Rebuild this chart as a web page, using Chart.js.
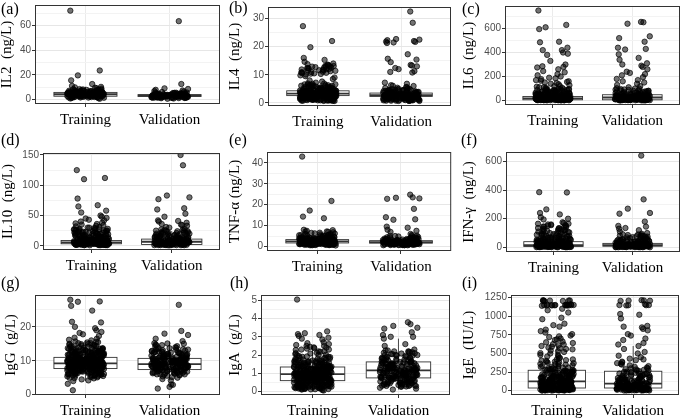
<!DOCTYPE html>
<html>
<head>
<meta charset="utf-8">
<script src="https://cdn.jsdelivr.net/npm/chart.js@4.4.1/dist/chart.umd.min.js"></script>
<style>
body { margin: 0; background: #fff; }
#wrap { position: relative; width: 685px; height: 420px; background: #fff; overflow: hidden; }
#wrap canvas { position: absolute; }
.tag { position: absolute; font: 16px "Liberation Serif", "Times New Roman", serif; line-height: 16px; color: #000; }
</style>
</head>
<body>
<div id="wrap"></div>
<script>
// groups on the x axis
var categories = ["Training", "Validation"];

// box stats per group: [lower whisker, q1, median, q3, upper whisker]
var il2TrainBox = [0.5, 2.6, 4.2, 5.7, 10.3], il2ValidBox = [0.5, 2.4, 3.2, 3.9, 6.1];
var il4TrainBox = [0.7, 2.6, 3.3, 4.3, 6.8], il4ValidBox = [0.7, 2.3, 2.8, 3.5, 5.3];
var il6TrainBox = [1, 6, 18, 33, 73], il6ValidBox = [1, 6, 25, 48, 110];
var il10TrainBox = [1, 3.3, 5.5, 8.7, 16.8], il10ValidBox = [1, 2.1, 6.6, 11, 24.3];
var tnfTrainBox = [0.5, 1.7, 2.5, 3.3, 5.7], tnfValidBox = [0.6, 1.6, 2.1, 2.8, 4.6];
var ifnTrainBox = [1, 6, 15, 40, 90], ifnValidBox = [1, 8, 16, 28, 58];
var iggTrainBox = [4.0, 7.7, 9.2, 11.0, 16.0], iggValidBox = [4.2, 7.4, 9.0, 10.7, 15.6];
var igaTrainBox = [0.05, 0.59, 0.95, 1.34, 2.45], igaValidBox = [0.1, 0.74, 1.15, 1.62, 2.9];
var igeTrainBox = [2, 36, 126, 274, 630], igeValidBox = [2, 36, 95, 261, 600];

// individual samples
var il2Train = [72, 23.5, 19.5, 15.5, 12.5, 11, 10.2, 9.8, 9.5, 9.1, 8.8, 8.4, 8.1, 7.8, 7.5, 7.3, 7.0, 6.8, 6.6, 6.4, 6.2, 6.0, 5.9, 5.7, 5.6, 5.4, 5.3, 5.1, 5.0, 4.9, 4.8, 4.6, 4.5, 4.4, 4.3, 4.2, 4.1, 4.0, 3.9, 3.8, 3.7, 3.6, 3.5, 3.4, 3.3, 3.2, 3.0, 2.9, 2.8, 2.7, 2.5, 2.4, 2.2, 2.0, 1.8, 1.6, 1.4, 1.2, 1.0, 0.8, 0.6, 5.5, 4.7, 3.1, 6.1, 2.6, 4.5, 3.8,
  4.3, 2.7, 6.2, 3.5, 5.1, 1.9, 7.4, 4.8, 3.0, 5.8, 2.2, 6.7, 4.0, 3.3, 5.4, 1.5, 8.3, 4.6, 2.9, 6.0, 3.8, 5.2, 2.4, 7.0, 4.1, 3.6, 5.6, 1.7, 6.5, 4.4, 3.1, 5.0, 2.6, 7.7, 4.2, 3.4, 5.9, 2.0, 6.3, 4.9,
  4.1, 2.8, 5.8, 3.6, 4.9, 2.1, 7.1, 4.5, 3.2, 5.5, 2.4, 6.4, 3.9, 3.4, 5.2, 1.6, 7.9, 4.7, 3.0, 6.1, 3.7, 5.0, 2.5, 6.8, 4.3, 3.5, 5.7, 1.9, 6.6, 4.6, 3.3, 4.8, 2.7, 7.5, 4.0, 3.1, 5.3, 2.2, 6.0, 4.4];
var il2Valid = [63.5, 12.5, 9.0, 8.5, 7.8, 7.2, 6.8, 6.4, 6.0, 5.7, 5.4, 5.1, 4.9, 4.6, 4.4, 4.2, 4.0, 3.9, 3.7, 3.5, 3.4, 3.2, 3.1, 3.0, 2.9, 2.8, 2.6, 2.5, 2.4, 2.3, 2.1, 2.0, 1.8, 1.6, 1.4, 1.2, 1.0, 0.8, 0.6, 3.3, 2.7, 4.1, 3.6, 2.2,
  3.1, 2.0, 4.5, 2.7, 3.8, 1.4, 5.2, 3.3, 2.4, 4.1, 1.8, 5.6, 3.0, 2.6, 3.6, 1.1, 4.8, 2.9, 2.2, 4.3, 3.4, 1.6, 5.0, 2.8, 3.7, 2.1, 4.0, 1.3, 3.2, 2.5,
  3.0, 2.1, 4.3, 2.6, 3.6, 1.5, 5.0, 3.2, 2.3, 3.9, 1.9, 5.4, 2.9, 2.5, 3.5, 1.2, 4.6, 2.8, 2.0, 4.1, 3.3, 1.7, 4.8, 2.7, 3.4, 2.2, 3.8, 1.4, 3.1, 2.4];
var il4Train = [27.3, 22.0, 19.8, 16.0, 15.3, 14.6, 14.0, 13.8, 13.5, 13.3, 13.1, 12.9, 12.7, 12.5, 12.3, 12.1, 11.9, 11.7, 11.5, 11.3, 11.1, 10.9, 10.7, 10.5, 10.3, 10.1, 9.8, 9.5, 9.0, 8.5, 8.0, 7.6, 7.2, 6.9, 6.6, 6.4, 6.1, 5.9, 5.7, 5.5, 5.3, 5.1, 4.9, 4.7, 4.5, 4.3, 4.1, 3.9, 3.8, 3.6, 3.5, 3.4, 3.3, 3.2, 3.1, 3.0, 2.9, 2.8, 2.7, 2.6, 2.5, 2.4, 2.3, 2.2, 2.1, 2.0, 1.9, 1.8, 1.6, 1.5, 1.4, 1.2, 1.1, 1.0, 0.9, 0.8, 0.7, 12.4, 13.0, 11.8, 10.6, 12.0, 3.7, 2.7, 4.4, 1.7, 3.0, 2.3, 5.0, 6.2,
  3.2, 1.8, 4.6, 2.5, 5.9, 1.2, 3.7, 2.9, 6.4, 1.6, 4.1, 2.2, 3.4, 5.2, 0.9, 2.7, 4.8, 1.4, 3.0, 6.8, 2.0, 3.9, 1.1, 5.5, 2.6, 4.3, 1.7, 3.5, 2.3, 6.1, 1.3, 4.0, 2.8, 5.0, 1.9, 3.3, 0.8, 4.5, 2.4, 5.7,
  1.5, 3.6, 2.1, 4.9, 3.1, 1.0, 6.5, 2.6, 4.2, 1.8, 3.8, 2.9, 5.4, 1.2, 3.4, 2.0, 4.7, 0.7, 3.0, 2.5, 5.8, 1.6, 4.4, 2.2, 3.7, 1.4, 6.3, 2.8, 3.2, 1.9,
  2.4, 3.9, 1.3, 5.1, 2.8, 0.9, 4.4, 1.9, 3.3, 6.0, 1.6, 2.7, 4.8, 1.1, 3.6, 2.2, 5.6, 0.8, 3.1, 4.2, 1.8, 2.9, 6.6, 1.4, 3.8, 2.3, 4.9, 1.0, 3.4, 2.6, 5.3, 1.7, 4.0, 2.1, 3.0, 6.9, 1.2, 3.7, 2.5, 4.6,
  1.5, 3.2, 5.8, 2.0, 4.3, 0.7, 2.8, 3.5, 5.0, 1.9, 12.6, 11.4, 13.2, 10.8, 12.2, 13.6, 11.0, 12.8, 10.4, 11.6, 2.6, 4.1, 1.4, 3.3, 5.5, 2.2, 3.9, 1.1, 4.7, 2.9, 3.6, 1.6, 6.2, 2.4, 3.1, 0.9, 4.5, 2.0, 3.4, 5.2];
var il4Valid = [32.5, 28.5, 22.7, 22.5, 22.3, 22.0, 21.8, 21.7, 21.5, 21.3, 17.3, 15.7, 15.4, 14.5, 13.5, 13.3, 13.0, 12.4, 12.0, 11.3, 11.0, 10.8, 7.2, 6.8, 6.3, 6.0, 5.6, 5.3, 5.0, 4.8, 4.6, 4.4, 4.2, 4.0, 3.8, 3.6, 3.4, 3.2, 3.1, 3.0, 2.9, 2.8, 2.7, 2.6, 2.5, 2.4, 2.3, 2.2, 2.1, 2.0, 1.9, 1.8, 1.7, 1.6, 1.5, 1.4, 1.3, 1.2, 1.1, 1.0, 0.9, 0.8, 0.7, 3.5, 2.6, 1.9, 4.1, 2.2, 3.3,
  2.7, 1.5, 3.9, 2.1, 4.6, 1.0, 3.1, 2.4, 5.0, 1.3, 3.5, 1.8, 2.9, 4.2, 0.8, 2.2, 3.7, 1.2, 2.6, 5.4, 1.7, 3.3, 0.9, 4.4, 2.0, 3.0, 1.4, 2.8, 1.9, 4.8, 1.1, 3.4, 2.3, 4.0, 1.6, 2.5, 0.7, 3.8, 2.1, 4.5,
  1.2, 3.2, 1.8, 2.7, 3.6, 1.5, 4.1, 2.4, 2.9, 1.0,
  2.2, 3.4, 1.1, 4.3, 2.5, 0.8, 3.7, 1.6, 2.8, 5.1, 1.3, 2.4, 4.0, 0.9, 3.1, 1.9, 4.7, 0.7, 2.6, 3.6, 1.5, 2.3, 5.6, 1.2, 3.3, 2.0, 4.2, 1.0, 2.9, 2.1, 4.6, 1.4, 3.5, 1.8, 2.7, 6.1, 1.0, 3.0, 2.2, 3.9,
  1.3, 2.6, 4.9, 1.7, 3.8, 0.8, 2.4, 3.2, 4.4, 1.6];
var il6Train = [750, 630, 610, 595, 490, 485, 440, 420, 420, 400, 390, 380, 330, 300, 285, 280, 275, 260, 245, 235, 220, 210, 200, 190, 185, 178, 170, 165, 160, 155, 150, 145, 140, 135, 128, 120, 115, 110, 105, 100, 96, 92, 88, 84, 80, 76, 72, 68, 64, 60, 56, 52, 48, 45, 42, 39, 36, 33, 30, 28, 26, 24, 22, 20, 18, 17, 16, 15, 14, 13, 12, 11, 10, 9, 8, 7, 6, 5, 4, 3, 2, 1, 25, 19, 31, 14, 8, 40, 55, 70,
  12, 35, 4, 58, 21, 8, 47, 16, 83, 27, 3, 39, 14, 66, 22, 6, 52, 18, 95, 31, 9, 44, 2, 71, 25, 13, 37, 5, 60, 19, 105, 29, 7, 49, 15, 78, 24, 10, 41, 1,
  63, 20, 33, 11, 88, 26, 4, 55, 17, 34, 8, 69, 23, 13, 46, 3, 92, 28, 6, 40, 14, 74, 21, 9, 51, 2, 36, 16, 62, 12,
  17, 42, 6, 65, 28, 3, 53, 12, 90, 34, 9, 46, 1, 75, 23, 14, 38, 5, 58, 19, 110, 31, 8, 50, 15, 82, 26, 11, 43, 2, 68, 21, 36, 7, 97, 30, 4, 57, 18, 32,
  13, 72, 24, 10, 48, 5, 86, 27, 16, 41, 3, 61, 22, 9, 54, 14, 79, 29, 6, 37, 120, 20, 45, 11, 66, 25, 2, 51, 17, 35, 8, 93, 28, 13, 44, 4, 59, 19, 7, 39];
var il6Valid = [655, 652, 640, 535, 520, 490, 440, 430, 425, 385, 355, 340, 310, 300, 290, 280, 260, 240, 230, 220, 210, 195, 180, 170, 160, 150, 140, 130, 120, 110, 100, 95, 90, 85, 80, 75, 70, 65, 60, 55, 50, 46, 42, 38, 35, 32, 29, 26, 24, 22, 20, 18, 16, 14, 12, 10, 9, 8, 7, 6, 5, 4, 3, 2, 1, 28, 45, 15, 36, 11,
  10, 30, 3, 52, 18, 7, 42, 14, 75, 24, 2, 35, 12, 60, 20, 5, 47, 16, 88, 28, 8, 39, 1, 66, 22, 11, 33, 4, 55, 17, 97, 26, 6, 44, 13, 70, 21, 9, 37, 2,
  58, 19, 31, 10, 81, 25, 3, 50, 15, 29,
  13, 37, 5, 59, 24, 2, 48, 11, 85, 30, 7, 41, 1, 69, 20, 12, 34, 4, 53, 16, 102, 27, 6, 45, 13, 77, 23, 9, 39, 2, 62, 18, 32, 6, 92, 26, 3, 51, 15, 29,
  10, 65, 21, 8, 43, 4, 80, 25, 14, 36];
var il10Train = [125, 112, 110, 78, 67, 65, 58, 55, 50, 48, 46, 45, 43, 42, 40, 38, 37, 36, 35, 34, 33, 32, 31, 30, 29, 28, 27, 26, 25, 24, 23, 22, 21, 20, 19, 18, 17, 16, 15, 14, 13, 12, 11, 10, 9.5, 9, 8.5, 8, 7.5, 7, 6.5, 6, 5.5, 5, 4.5, 4, 3.5, 3, 2.5, 2, 1.5, 1, 6, 5, 4, 8, 3, 7, 10, 12, 2, 15,
  4, 12, 2.5, 19, 7, 1.5, 15, 5.5, 26, 9, 3, 13, 6, 22, 8, 1, 17, 4.5, 29, 10.5, 3.5, 14, 2, 21, 7.5, 5, 11, 1.2, 18, 6.5, 24, 9.5, 2.8, 16, 4.2, 27, 8.5, 3.2, 12.5, 0.8,
  20, 6.8, 10, 3.8, 23, 7.2, 1.8, 14.5, 5.2, 11.5, 2.2, 18.5, 6.2, 4.8, 13.5, 1.4, 25, 8.2, 3.4, 9.8,
  5, 13, 2, 21, 8, 1.5, 16, 4, 27, 10, 3, 14.5, 6.5, 24, 9, 1.2, 18, 5.5, 30, 11, 3.8, 15, 2.4, 22, 7.8, 4.6, 12, 1, 19, 7, 26, 10.2, 2.6, 17, 4.4, 28, 9.2, 3.6, 13.2, 0.9,
  21.5, 6.6, 11.2, 3.3, 25, 8, 1.7, 15.5, 5.8, 12.2, 2.3, 19.5, 6.9, 5.2, 14, 1.3, 23, 8.8, 3.1, 10.8, 4.1, 16.5, 2.9, 9.6, 6.2, 20.5, 1.6, 12.8, 7.6, 3.9];
var il10Valid = [150, 133, 83, 80, 77, 62, 60, 53, 48, 42, 41, 40, 38, 36, 35, 34, 33, 31, 30, 28, 27, 26, 25, 24, 23, 22, 21, 20, 19, 18, 17, 16, 15, 14, 13, 12, 11, 10, 9, 8, 7, 6.5, 6, 5.5, 5, 4.5, 4, 3.5, 3, 2.5, 2, 1.5, 1, 7, 5, 9, 3, 12,
  3.5, 10, 2, 16, 6, 1.2, 13, 4.5, 22, 8, 2.5, 11, 5, 19, 7, 0.9, 14, 3.8, 25, 9, 3, 12, 1.6, 18, 6.5, 4.2, 9.5, 1.1, 15, 5.5, 20, 8.5, 2.2, 13.5, 3.6, 24, 7.5, 2.8, 10.5, 0.7,
  17, 5.8, 8.8, 3.2, 21, 6.2, 1.4, 12.5, 4.6, 11.5,
  4, 11, 1.8, 17, 6.8, 1, 14, 3.5, 23, 8.6, 2.6, 12, 5.4, 20, 7.4, 0.9, 15.5, 4.2, 26, 9.6, 3.2, 13, 1.5, 19, 6, 4.8, 10.2, 1.2, 16, 5.2, 21, 9, 2.4, 14.5, 3.8, 25, 7.8, 2.9, 11.2, 0.8,
  18, 6.4, 9.2, 3.4, 22, 5.8, 1.6, 13.6, 4.4, 12.4];
var tnfTrain = [43, 21.8, 17.2, 14.3, 13.5, 8.0, 7.8, 7.5, 7.2, 7.0, 6.8, 6.5, 6.3, 6.0, 5.8, 5.6, 5.4, 5.2, 5.0, 4.8, 4.6, 4.4, 4.2, 4.0, 3.8, 3.6, 3.5, 3.4, 3.3, 3.2, 3.1, 3.0, 2.9, 2.8, 2.7, 2.6, 2.5, 2.4, 2.3, 2.2, 2.1, 2.0, 1.9, 1.8, 1.7, 1.6, 1.5, 1.4, 1.3, 1.2, 1.1, 1.0, 0.9, 0.8, 0.7, 0.6, 0.5, 2.5, 3.0, 1.8, 2.2, 4.1, 1.5, 2.8,
  2.4, 1.3, 3.6, 1.9, 4.5, 0.9, 2.9, 2.1, 5.3, 1.1, 3.2, 1.6, 2.6, 4.1, 0.7, 2.0, 3.8, 1.0, 2.3, 5.8, 1.5, 3.0, 0.8, 4.8, 1.8, 3.4, 1.2, 2.7, 1.7, 6.2, 1.0, 3.1, 2.2, 4.3, 1.4, 2.5, 0.6, 3.7, 1.9, 5.0,
  1.1, 2.8, 1.6, 4.0, 2.4, 0.8, 3.3, 2.0, 2.9, 1.3,
  2.6, 1.4, 3.5, 2.0, 4.3, 1.0, 3.0, 2.2, 5.1, 1.2, 3.3, 1.7, 2.8, 4.0, 0.8, 2.1, 3.7, 1.1, 2.5, 5.6, 1.6, 3.1, 0.9, 4.6, 1.9, 3.5, 1.3, 2.9, 1.8, 6.0, 1.1, 3.2, 2.3, 4.2, 1.5, 2.6, 0.7, 3.8, 2.0, 4.8,
  1.2, 2.9, 1.7, 3.9, 2.5, 0.9, 3.4, 2.1, 3.0, 1.4, 7.2, 6.6, 5.4, 4.4, 2.7, 1.9, 3.6, 2.4, 1.0, 3.1];
var tnfValid = [24.8, 23.5, 23.3, 23.0, 22.8, 18.0, 14.0, 13.0, 12.8, 9.5, 9.0, 8.0, 7.5, 7.0, 6.0, 5.5, 5.2, 5.0, 4.8, 4.5, 4.2, 4.0, 3.8, 3.6, 3.4, 3.2, 3.0, 2.9, 2.8, 2.7, 2.6, 2.5, 2.4, 2.3, 2.2, 2.1, 2.0, 1.9, 1.8, 1.7, 1.6, 1.5, 1.4, 1.3, 1.2, 1.1, 1.0, 0.9, 0.8, 0.7, 0.6, 2.0, 2.3, 1.7, 3.1,
  2.0, 1.1, 3.0, 1.6, 3.8, 0.8, 2.4, 1.8, 4.4, 0.9, 2.7, 1.3, 2.2, 3.4, 0.6, 1.7, 3.2, 1.0, 1.9, 4.9, 1.2, 2.5, 0.7, 3.9, 1.5, 2.9, 1.0, 2.3, 1.4, 3.6, 0.9, 2.6, 1.8, 3.1, 1.2, 2.1, 0.6, 2.8, 1.6, 4.2,
  2.1, 1.2, 2.9, 1.7, 3.6, 0.9, 2.5, 1.9, 4.2, 1.0, 2.8, 1.4, 2.3, 3.3, 0.7, 1.8, 3.0, 1.1, 2.0, 4.6, 1.3, 2.6, 0.8, 3.7, 1.6, 2.7, 1.1, 2.4, 1.5, 3.5, 1.0, 2.5, 1.9, 3.2, 1.3, 2.2, 0.7, 2.9, 1.7, 4.0,
  1.2, 2.3, 1.6, 5.1, 2.0];
var ifnTrain = [385, 383, 265, 240, 230, 210, 200, 195, 175, 170, 165, 160, 155, 150, 145, 140, 135, 130, 125, 120, 115, 110, 105, 100, 96, 92, 88, 84, 80, 76, 72, 68, 64, 60, 56, 52, 48, 44, 40, 37, 34, 31, 28, 25, 23, 21, 19, 17, 15, 13, 11, 10, 9, 8, 7, 6, 5, 4, 3, 2, 1, 20, 30, 12, 45, 8, 60, 16,
  10, 32, 3, 55, 18, 7, 44, 14, 80, 24, 2, 36, 12, 65, 20, 5, 50, 16, 98, 28, 8, 41, 1, 70, 22, 11, 34, 4, 58, 17, 115, 26, 6, 47, 13, 85, 21, 9, 38, 2,
  62, 19, 30, 10, 92, 25, 4, 53, 15, 33, 7, 75, 23, 12, 46, 3, 108, 27, 5, 39,
  12, 35, 4, 60, 20, 8, 47, 15, 88, 26, 3, 39, 13, 70, 22, 6, 54, 17, 105, 30, 9, 43, 2, 76, 24, 12, 36, 5, 63, 18, 125, 28, 7, 50, 14, 92, 23, 10, 41, 3,
  66, 21, 32, 11, 98, 27, 5, 57, 16, 35, 8, 80, 25, 13, 48, 4, 115, 29, 6, 42, 150, 160, 140, 130, 120, 165, 135, 145, 155, 125];
var ifnValid = [640, 335, 270, 240, 235, 180, 150, 145, 135, 130, 120, 110, 100, 92, 85, 80, 75, 70, 65, 60, 55, 50, 46, 42, 38, 34, 31, 28, 25, 23, 21, 19, 17, 15, 13, 12, 11, 10, 9, 8, 7, 6, 5, 4, 3, 2, 1, 18, 24, 14, 40, 9,
  8, 26, 2, 46, 15, 6, 37, 11, 68, 20, 1, 30, 10, 55, 17, 4, 42, 13, 82, 23, 7, 34, 1, 60, 18, 9, 28, 3, 50, 14, 90, 22, 5, 40, 11, 72, 18, 8, 32, 2,
  52, 16, 25, 9, 78, 21, 3, 44, 12, 27,
  9, 28, 3, 49, 16, 7, 39, 12, 72, 21, 2, 32, 11, 58, 18, 5, 45, 14, 86, 24, 8, 36, 1, 64, 19, 10, 30, 4, 53, 15, 95, 23, 6, 43, 12, 76, 20, 9, 34, 3,
  55, 17, 26, 10, 82, 22, 4, 47, 13, 29];
var iggTrain = [28.0, 27.5, 27.4, 26.2, 24.8, 21.5, 21.3, 20.0, 19.6, 19.0, 18.5, 18.2, 17.8, 17.3, 16.8, 16.5, 16.2, 16.0, 15.7, 15.5, 15.2, 15.0, 14.7, 14.5, 14.2, 14.0, 13.7, 13.5, 13.2, 13.0, 12.8, 12.6, 12.4, 12.2, 12.0, 11.8, 11.6, 11.4, 11.2, 11.0, 10.8, 10.6, 10.4, 10.2, 10.0, 9.9, 9.8, 9.7, 9.6, 9.5, 9.4, 9.3, 9.2, 9.1, 9.0, 8.9, 8.8, 8.7, 8.6, 8.5, 8.4, 8.3, 8.2, 8.1, 8.0, 7.9, 7.8, 7.6, 7.4, 7.2, 7.0, 6.8, 6.6, 6.4, 6.2, 6.0, 5.8, 5.6, 5.4, 5.2, 5.0, 4.8, 4.5, 4.2, 4.0, 3.2, 1.3, 9.5, 10.5, 8.5, 11.5, 7.5, 12.5, 9.0, 10.0, 8.0, 13.5, 6.5,
  9.3, 7.1, 11.8, 8.4, 10.7, 6.2, 12.9, 9.8, 8.0, 10.1, 13.6, 7.7, 9.0, 11.2, 5.6, 8.8, 10.4, 12.2, 6.9, 9.5, 14.1, 8.2, 10.9, 7.4, 9.1, 11.6, 6.5, 12.5, 8.6, 10.0, 9.7, 7.9, 13.1, 5.9, 11.0, 8.9, 10.3, 6.7, 12.0, 9.4,
  8.1, 14.8, 10.6, 7.2, 9.2, 11.4, 6.0, 12.7, 8.5, 10.2, 9.9, 7.6, 13.3, 5.3, 11.9, 8.3, 10.8, 6.4, 12.3, 9.6, 7.0, 11.1, 8.7, 15.4, 9.0, 10.5, 6.8, 12.6, 7.8, 11.3, 9.3, 8.0, 13.9, 5.8, 10.1, 8.4, 11.7, 6.3, 12.1, 9.7,
  10.4, 7.3, 14.4, 8.9, 9.1, 11.5, 6.1, 13.0, 7.5, 10.6, 9.5, 8.2, 12.4, 4.9, 11.0, 8.6, 10.3, 6.6, 12.8, 9.8, 7.9, 11.2, 8.1, 15.0, 9.4, 10.0, 6.9, 13.4, 7.7, 11.8, 9.2, 8.5, 12.2, 5.5, 10.7, 8.8, 11.4, 7.1, 14.0, 9.6,
  8.7, 10.9, 6.8, 12.4, 9.3, 7.5, 11.3, 5.4, 13.7, 9.0, 10.2, 7.9, 14.6, 8.3, 11.9, 6.1, 9.6, 12.8, 8.0, 10.6, 7.2, 13.2, 9.1, 11.1, 5.9, 8.9, 10.4, 15.6, 7.7, 12.0, 9.4, 6.5, 11.6, 8.5, 13.5, 10.0, 7.0, 12.6, 9.8, 8.2,
  14.2, 6.9, 10.7, 9.2, 11.8, 5.7, 8.6, 12.2, 10.3, 7.4, 9.9, 13.8, 8.1, 11.4, 6.3, 10.1, 9.5, 12.9, 7.8, 15.2, 8.4, 11.0, 6.7, 13.1, 9.7, 10.5, 7.1, 12.3, 8.8, 14.9, 9.0, 11.2, 5.1, 10.8, 7.6, 12.7, 9.3, 8.0, 13.6, 6.4,
  10.2, 11.7, 7.3, 9.6, 12.1, 8.7, 14.3, 6.0, 10.6, 9.1, 11.5, 7.9, 13.0, 8.3, 10.0, 12.5, 6.6, 9.4, 11.9, 7.5];
var iggValid = [26.5, 18.8, 18.0, 17.6, 16.5, 15.8, 15.2, 15.0, 14.6, 14.2, 13.8, 13.4, 13.0, 12.7, 12.4, 12.1, 11.8, 11.5, 11.2, 11.0, 10.8, 10.6, 10.4, 10.2, 10.0, 9.8, 9.6, 9.4, 9.2, 9.0, 8.8, 8.6, 8.4, 8.2, 8.0, 7.8, 7.6, 7.4, 7.2, 7.0, 6.8, 6.6, 6.3, 6.0, 5.7, 5.4, 5.0, 4.6, 4.2, 3.0, 2.9, 2.3, 1.8, 9.5, 8.5, 10.5, 9.1, 7.9, 11.4,
  9.1, 7.3, 11.4, 8.2, 10.5, 6.4, 12.6, 9.7, 8.0, 10.0, 13.2, 7.6, 9.3, 11.0, 5.8, 8.7, 10.3, 12.0, 6.9, 9.5, 13.8, 8.4, 10.8, 7.1, 9.0, 11.6, 6.2, 12.3, 8.6, 9.9, 9.6, 7.8, 12.9, 6.0, 10.9, 8.9, 10.2, 6.7, 11.8, 9.4,
  8.1, 14.3, 10.6, 7.4, 9.2, 11.2, 6.5, 12.5, 8.3, 10.1, 9.8, 7.5, 13.5, 5.2, 11.5, 8.8, 10.7, 6.3, 12.1, 9.1, 7.0, 10.4, 8.5, 14.8, 9.3, 10.0, 6.8, 12.7, 7.9, 11.1,
  8.9, 10.6, 7.0, 12.2, 9.4, 7.7, 11.1, 5.6, 13.4, 9.2, 10.3, 8.1, 14.0, 8.5, 11.7, 6.3, 9.8, 12.5, 8.0, 10.9, 7.4, 12.8, 9.0, 11.3, 6.0, 8.7, 10.1, 15.1, 7.9, 11.9, 9.5, 6.6, 11.4, 8.3, 13.1, 10.0, 7.2, 12.4, 9.7, 8.2,
  13.7, 6.9, 10.5, 9.1, 11.6, 5.9, 8.6, 12.0, 10.2, 7.5, 9.9, 13.3, 8.4, 11.0, 6.5, 10.4, 9.3, 12.6, 7.8, 14.6];
var igaTrain = [5.05, 3.3, 3.2, 3.15, 3.1, 3.05, 2.95, 2.9, 2.85, 2.7, 2.6, 2.5, 2.45, 2.4, 2.3, 2.2, 2.1, 2.0, 1.9, 1.85, 1.8, 1.75, 1.7, 1.65, 1.6, 1.55, 1.5, 1.45, 1.4, 1.35, 1.3, 1.25, 1.2, 1.15, 1.1, 1.05, 1.0, 0.97, 0.94, 0.91, 0.88, 0.85, 0.82, 0.79, 0.76, 0.73, 0.7, 0.67, 0.64, 0.61, 0.58, 0.55, 0.52, 0.49, 0.46, 0.43, 0.4, 0.37, 0.34, 0.31, 0.28, 0.25, 0.22, 0.19, 0.16, 0.13, 0.1, 0.07, 0.05, 0.9, 1.1, 0.8, 1.3, 0.6, 0.3, 1.6, 2.2, 0.2, 1.0, 0.5,
  0.92, 0.45, 1.38, 0.71, 1.12, 0.23, 1.85, 0.66, 1.02, 0.34, 1.55, 0.81, 0.18, 1.27, 0.58, 2.05, 0.95, 0.41, 1.44, 0.76, 1.18, 0.29, 0.87, 1.66, 0.52, 1.08, 0.12, 1.33, 0.63, 2.35, 0.99, 0.38, 1.21, 0.74, 1.49, 0.26, 0.84, 1.73, 0.56, 1.04,
  0.15, 1.36, 0.69, 1.95, 0.93, 0.47, 1.16, 0.79, 1.58, 0.31, 0.89, 1.24, 0.61, 2.5, 1.01, 0.36, 1.41, 0.73, 1.09, 0.21, 0.96, 1.62, 0.54, 1.29, 0.83, 0.43, 1.79, 0.67, 1.14, 0.27, 0.91, 1.46, 0.59, 2.18, 1.06, 0.33, 1.31, 0.77, 1.52, 0.17,
  0.86, 1.19, 0.49, 1.7, 0.97, 0.39, 1.35, 0.72, 1.1, 0.24, 0.94, 1.6, 0.57, 2.65, 1.03, 0.44, 1.26, 0.8, 1.47, 0.14, 0.88, 1.23, 0.62, 1.9, 0.98, 0.35, 1.39, 0.7, 1.13, 0.3, 0.9, 1.57, 0.53, 2.28, 1.07, 0.42, 1.32, 0.75, 1.2, 0.19,
  0.85, 1.22, 0.41, 1.63, 0.97, 0.28, 1.41, 0.69, 2.12, 1.05, 0.52, 1.3, 0.16, 1.78, 0.77, 1.11, 0.36, 1.54, 0.89, 2.42, 0.63, 1.17, 0.22, 1.45, 0.94, 0.48, 1.88, 0.74, 1.27, 0.11, 1.02, 1.59, 0.57, 1.36, 0.82, 2.02, 0.33, 1.15, 0.68, 1.71,
  0.92, 0.45, 1.25, 0.13, 1.5, 0.79, 2.3, 1.08, 0.6, 1.34, 0.25, 1.82, 0.87, 1.19, 0.4, 1.43, 0.71, 2.55, 1.0, 0.55, 1.29, 0.2, 1.67, 0.84, 1.13, 0.37, 1.56, 0.66, 2.08, 0.99, 0.5, 1.38, 0.18, 1.75, 0.78, 1.07, 0.32, 1.48, 0.93, 2.38,
  0.61, 1.2, 0.26, 1.4, 0.96, 0.46, 1.92, 0.73, 1.24, 0.15, 1.04, 1.61, 0.58, 1.33, 0.81, 1.98, 0.35, 1.16, 0.65, 1.69];
var igaValid = [3.8, 3.7, 3.6, 3.5, 3.45, 3.25, 3.1, 3.0, 3.0, 2.9, 2.6, 2.5, 2.3, 2.25, 2.2, 2.15, 2.1, 2.05, 2.0, 1.95, 1.9, 1.85, 1.8, 1.75, 1.7, 1.65, 1.6, 1.55, 1.5, 1.45, 1.4, 1.35, 1.3, 1.25, 1.2, 1.15, 1.1, 1.05, 1.0, 0.95, 0.9, 0.85, 0.8, 0.75, 0.7, 0.65, 0.6, 0.55, 0.5, 0.45, 0.4, 0.35, 0.3, 0.25, 0.2, 0.15, 0.1, 1.1, 1.3, 0.9, 1.6, 0.7, 2.0,
  1.12, 0.64, 1.58, 0.88, 1.31, 0.42, 1.95, 0.79, 1.21, 0.51, 1.72, 0.97, 0.33, 1.45, 0.72, 2.15, 1.09, 0.57, 1.63, 0.92, 1.36, 0.46, 1.04, 1.85, 0.68, 1.27, 0.28, 1.52, 0.81, 2.25, 1.17, 0.55, 1.4, 0.9, 1.68, 0.38, 1.01, 1.9, 0.74, 1.24,
  0.3, 1.55, 0.85, 2.05, 1.14, 0.62, 1.33, 0.95, 1.77, 0.47, 1.06, 1.43, 0.78, 2.2, 1.19, 0.53, 1.6, 0.89, 1.29, 0.36, 1.15, 1.8, 0.7, 1.48, 0.99, 0.6, 1.98, 0.83, 1.35, 0.41,
  1.05, 0.58, 1.49, 0.83, 1.26, 0.4, 1.83, 0.75, 1.16, 0.49, 1.65, 0.93, 0.31, 1.39, 0.69, 2.08, 1.02, 0.54, 1.57, 0.87, 1.3, 0.44, 0.98, 1.78, 0.66, 1.22, 0.27, 1.46, 0.77, 2.18, 1.11, 0.52, 1.35, 0.86, 1.61, 0.36, 0.96, 1.87, 0.71, 1.18,
  0.29, 1.51, 0.81, 1.97, 1.09, 0.59, 1.28, 0.91, 1.73, 0.45, 1.01, 1.41, 0.74, 2.12, 1.14, 0.5, 1.55, 0.84, 1.23, 0.34];
var igeTrain = [1215, 1212, 1210, 1208, 1205, 1203, 1160, 1155, 1152, 1150, 1150, 1148, 1147, 1145, 1145, 1143, 1140, 1100, 1080, 1050, 980, 960, 900, 880, 860, 820, 800, 780, 760, 740, 720, 700, 680, 660, 640, 620, 600, 580, 560, 540, 520, 500, 480, 460, 440, 420, 400, 380, 360, 340, 320, 300, 285, 270, 255, 240, 225, 210, 195, 180, 165, 150, 140, 130, 120, 110, 100, 90, 80, 70, 60, 50, 45, 40, 35, 30, 25, 20, 15, 10, 5, 2, 200, 150, 100, 60, 30, 250, 120, 80,
  35, 120, 8, 260, 75, 180, 18, 410, 95, 55, 150, 12, 330, 66, 210, 28, 105, 480, 42, 170, 4, 240, 88, 135, 22, 370, 60, 195, 15, 115, 290, 50, 160, 9, 230, 80, 350, 32, 125, 70,
  190, 14, 275, 98, 45, 145, 6, 310, 62, 220, 25, 110, 440, 38, 175, 3, 250, 85, 130, 20, 390, 58, 200, 11, 118, 300, 48, 165, 7, 235, 78, 360, 30, 128, 68, 185, 16, 280, 92, 52,
  1150, 1148, 1152, 1146, 1151, 1149, 1210, 1207,
  22, 145, 60, 310, 9, 205, 88, 40, 260, 115, 3, 175, 70, 390, 30, 130, 55, 235, 14, 100, 330, 48, 190, 6, 155, 82, 280, 26, 120, 65, 215, 11, 95, 420, 36, 170, 75, 250, 18, 138,
  52, 300, 4, 185, 90, 45, 225, 108, 27, 160, 68, 355, 12, 125, 58, 270, 33, 198, 80, 8, 142, 62, 245, 20, 112, 460, 42, 180, 72, 290, 15, 135, 50, 210, 2, 98, 375, 38, 165, 85,
  24, 255, 118, 57, 320, 10, 188, 77, 35, 148, 66, 230, 17, 103, 405, 44, 172, 92, 265, 29, 530, 610, 570, 690, 650, 730, 505, 555, 590, 625];
var igeValid = [1215, 1212, 1210, 1208, 1205, 1160, 1150, 1148, 1145, 1030, 1020, 970, 870, 860, 850, 830, 810, 760, 740, 700, 680, 640, 620, 600, 560, 520, 500, 470, 450, 430, 410, 390, 370, 350, 330, 310, 290, 270, 250, 230, 210, 190, 170, 150, 130, 115, 100, 90, 80, 70, 60, 50, 40, 30, 25, 20, 15, 10, 5, 2, 95, 60, 140, 35,
  30, 110, 7, 240, 70, 165, 16, 95, 50, 140, 10, 300, 60, 195, 24, 85, 420, 38, 155, 3, 220, 80, 125, 19, 340, 55, 180, 13, 100, 270, 45, 150, 8, 210, 73, 118, 28, 65, 175, 12,
  255, 88, 40, 130, 5, 285, 58, 200, 21, 92, 1150, 1147,
  18, 130, 50, 280, 6, 185, 75, 33, 230, 105, 2, 160, 62, 360, 25, 118, 45, 210, 11, 90, 300, 40, 172, 4, 140, 70, 250, 21, 108, 55, 195, 9, 85, 380, 30, 150, 66, 225, 14, 125,
  42, 265, 3, 168, 80, 36, 200, 98, 23, 145, 58, 320, 8, 112, 48, 240, 28, 178, 72, 12];

// horizontal jitter offsets, reused in turn
var jitter = [-0.18, 0.07, 0.21, -0.05, 0.13, -0.21, 0.02, 0.17, -0.12, 0.09, -0.02, 0.19, -0.15, 0.04, -0.09, 0.15, -0.2, 0.11, -0.07, 0.2, 0.0, -0.17, 0.06, -0.11, 0.14, -0.03, 0.18, -0.14, 0.08, -0.19, 0.12, -0.06, 0.16, -0.1, 0.03, -0.16, 0.1, -0.08, 0.22, -0.13, 0.05,
  -0.215, 0.185, -0.045, 0.095, -0.165, 0.135, -0.025, 0.205, -0.125, 0.035, -0.085, 0.155, -0.195, 0.075, -0.065, 0.115, -0.145, 0.015];

var serif = '"Liberation Serif", "Times New Roman", serif';
var sans = '"Liberation Sans", Arial, sans-serif';

// cell = [left, top, w, h], plot = [left, right, top, bottom], y = [min, max, major, minor]
var panels = [
  {tag: "(a)", tagPos: [1, 1], title: "IL2  (ng/L)", tx: -1.5, train: il2Train, valid: il2Valid, box: [il2TrainBox, il2ValidBox], y: [-3.7, 76.6, 20, 10], cell: [0, 0, 228, 140], plot: [35, 220, 5, 104]},
  {tag: "(b)", tagPos: [229, 0], title: "IL4  (ng/L)", tx: -2, train: il4Train, valid: il4Valid, box: [il4TrainBox, il4ValidBox], y: [-1.1, 34.1, 10, 5], cell: [228, 0, 228, 140], plot: [268, 451, 7, 106]},
  {tag: "(c)", tagPos: [462, 1], title: "IL6  (ng/L)", tx: 4, train: il6Train, valid: il6Valid, box: [il6TrainBox, il6ValidBox], y: [-37.5, 787.5, 200, 100], cell: [456, 0, 229, 140], plot: [505, 680, 6, 105]},
  {tag: "(d)", tagPos: [1, 132], title: "IL10  (ng/L)", tx: -1, train: il10Train, valid: il10Valid, box: [il10TrainBox, il10ValidBox], y: [-7, 153.3, 50, 25], cell: [0, 140, 228, 140], plot: [43, 220, 153, 250]},
  {tag: "(e)", tagPos: [229, 132], title: "TNF-\u03b1 (ng/L)", tx: -2, train: tnfTrain, valid: tnfValid, box: [tnfTrainBox, tnfValidBox], y: [-2.15, 45.2, 10, 5], cell: [228, 140, 228, 140], plot: [267, 453, 152, 251]},
  {tag: "(f)", tagPos: [461, 132], title: "IFN-\u03b3  (ng/L)", tx: 4, train: ifnTrain, valid: ifnValid, box: [ifnTrainBox, ifnValidBox], y: [-32, 665, 200, 100], cell: [456, 140, 229, 140], plot: [506, 680, 152, 252]},
  {tag: "(g)", tagPos: [1, 275], title: "IgG  (g/L)", tx: 2, train: iggTrain, valid: iggValid, box: [iggTrainBox, iggValidBox], y: [-0.1, 29.4, 10, 5], cell: [0, 280, 228, 140], plot: [35, 220, 295, 395]},
  {tag: "(h)", tagPos: [230, 275], title: "IgA  (g/L)", tx: -2, train: igaTrain, valid: igaValid, box: [igaTrainBox, igaValidBox], y: [-0.2, 5.3, 1, 0.5], cell: [228, 280, 228, 140], plot: [261, 450, 295, 395]},
  {tag: "(i)", tagPos: [462, 275], title: "IgE  (IU/L)", tx: 4, train: igeTrain, valid: igeValid, box: [igeTrainBox, igeValidBox], y: [-58, 1285, 250, 125], cell: [456, 280, 229, 140], plot: [511, 679, 295, 395]}
];

var wrap = document.getElementById("wrap");

function makePoints(values, g) {
  return values.map(function (v, k) {
    return {x: g + 1 + jitter[(k * 7 + g * 17) % jitter.length], y: v};
  });
}

panels.forEach(function (p) {
  var c = document.createElement("canvas");
  c.width = p.cell[2];
  c.height = p.cell[3];
  c.style.left = p.cell[0] + "px";
  c.style.top = p.cell[1] + "px";
  wrap.appendChild(c);

  var major = p.y[2], minor = p.y[3];
  var isMajor = function (v) { return Math.abs(v / major - Math.round(v / major)) < 1e-6; };
  var yTicks = [];
  for (var k = 0; k * minor <= p.y[1]; k++) yTicks.push(Math.round(k * minor * 1000) / 1000);

  // boxes go under the points, frame goes on top
  var boxPlugin = {
    id: "boxes",
    beforeDatasetsDraw: function (chart) {
      var ctx = chart.ctx, xs = chart.scales.x, ys = chart.scales.y, a = chart.chartArea;
      ctx.save();
      ctx.beginPath();
      ctx.rect(a.left, a.top, a.right - a.left, a.bottom - a.top);
      ctx.clip();
      p.box.forEach(function (b, g) {
        var xc = xs.getPixelForValue(g + 1);
        var hw = xs.getPixelForValue(g + 1.375) - xc;
        var y = b.map(function (v) { return ys.getPixelForValue(v); });
        ctx.strokeStyle = "#333";
        ctx.lineWidth = 0.9;
        ctx.beginPath();
        ctx.moveTo(xc, y[0]); ctx.lineTo(xc, y[1]);
        ctx.moveTo(xc, y[3]); ctx.lineTo(xc, y[4]);
        ctx.stroke();
        ctx.fillStyle = "#fff";
        ctx.fillRect(xc - hw, y[3], 2 * hw, y[1] - y[3]);
        ctx.strokeRect(xc - hw, y[3], 2 * hw, y[1] - y[3]);
        ctx.lineWidth = 1.8;
        ctx.beginPath();
        ctx.moveTo(xc - hw, y[2]); ctx.lineTo(xc + hw, y[2]);
        ctx.stroke();
      });
      ctx.restore();
    },
    afterDatasetsDraw: function (chart) {
      var ctx = chart.ctx, a = chart.chartArea;
      ctx.save();
      ctx.strokeStyle = "#333";
      ctx.lineWidth = 1;
      ctx.strokeRect(a.left + 0.5, a.top + 0.5, a.right - a.left - 1, a.bottom - a.top - 1);
      ctx.restore();
    }
  };

  new Chart(c, {
    type: "scatter",
    data: {
      datasets: [
        {label: categories[0], data: makePoints(p.train, 0)},
        {label: categories[1], data: makePoints(p.valid, 1)}
      ]
    },
    options: {
      responsive: false,
      animation: false,
      devicePixelRatio: 1,
      layout: {padding: {top: p.plot[2] - p.cell[1], right: p.cell[0] + p.cell[2] - p.plot[1], left: 0, bottom: 0}},
      elements: {point: {radius: 2.7, backgroundColor: "rgba(0,0,0,0.55)", borderColor: "rgba(0,0,0,0.85)", borderWidth: 0.8}},
      plugins: {legend: {display: false}, tooltip: {enabled: false}},
      scales: {
        x: {
          type: "linear", min: 0.4, max: 2.6,
          afterBuildTicks: function (s) { s.ticks = [{value: 1}, {value: 2}]; },
          afterFit: function (s) {
            s.height = p.cell[1] + p.cell[3] - p.plot[3];
            s.paddingLeft = 0; s.paddingRight = 0;
          },
          border: {display: false},
          grid: {color: "#ebebeb", tickColor: "#333", tickLength: 3},
          ticks: {
            maxRotation: 0, autoSkip: false, padding: 4, color: "#000",
            font: {family: serif, size: 15},
            callback: function (v) { return categories[v - 1]; }
          }
        },
        y: {
          min: p.y[0], max: p.y[1],
          afterBuildTicks: function (s) { s.ticks = yTicks.map(function (v) { return {value: v}; }); },
          afterFit: function (s) {
            s.width = p.plot[0] - p.cell[0];
            s.paddingTop = 0; s.paddingBottom = 0;
          },
          border: {display: false},
          grid: {
            color: function (ctx) { return isMajor(ctx.tick.value) ? "#e6e6e6" : "#f3f3f3"; },
            tickColor: function (ctx) { return isMajor(ctx.tick.value) ? "#333" : "rgba(0,0,0,0)"; },
            tickLength: 3
          },
          ticks: {
            autoSkip: false, padding: 1, color: "#4d4d4d",
            font: {family: sans, size: 10},
            callback: function (v) { return isMajor(v) ? String(v) : ""; }
          },
          title: {
            display: true, text: p.title, color: "#000",
            font: {family: serif, size: 15},
            padding: {top: p.tx, bottom: 0}
          }
        }
      }
    },
    plugins: [boxPlugin]
  });

  var tag = document.createElement("div");
  tag.className = "tag";
  tag.textContent = p.tag;
  tag.style.left = p.tagPos[0] + "px";
  tag.style.top = p.tagPos[1] + "px";
  wrap.appendChild(tag);
});
</script>
</body>
</html>
